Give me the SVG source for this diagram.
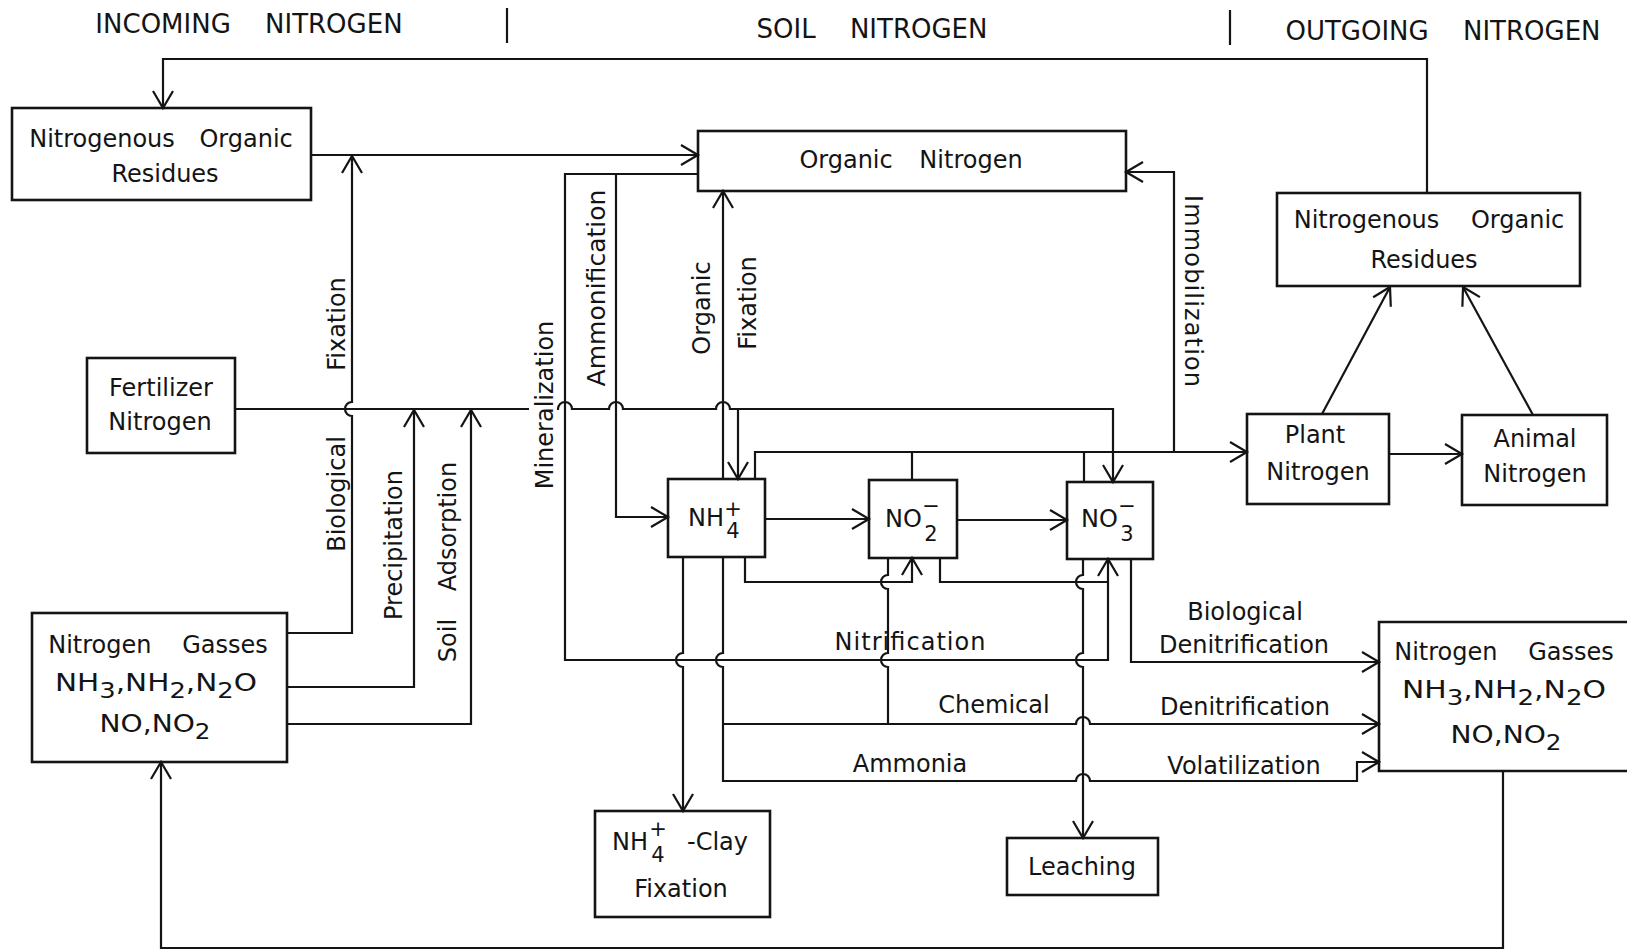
<svg xmlns="http://www.w3.org/2000/svg" width="1627" height="951" viewBox="0 0 1627 951">
<defs>
<style>
.t{font-family:"DejaVu Sans","Liberation Sans",sans-serif;font-size:24px;fill:#141414}
.hd{font-size:26px;word-spacing:26px}
.s{font-size:21px}
.m{text-anchor:middle}
.b{fill:none;stroke:#141414;stroke-width:2.6}
.c{fill:none;stroke:#141414;stroke-width:2.2}
.a{marker-end:url(#ah)}
</style>
<marker id="ah" markerUnits="userSpaceOnUse" orient="auto" markerWidth="26" markerHeight="26" viewBox="-22 -13 26 26" refX="0" refY="0" overflow="visible"><path d="M-17,-10 L0,0 L-17,10" fill="none" stroke="#141414" stroke-width="2.2"/></marker>
</defs>
<rect width="1627" height="951" fill="#fff"/>

<g id="headers">
<text class="t hd m" x="249" y="33">INCOMING NITROGEN</text>
<text class="t hd m" x="872" y="38">SOIL NITROGEN</text>
<text class="t hd m" x="1443" y="40">OUTGOING NITROGEN</text>
<path class="c" d="M507,8 V43 M1230,10 V45"/>
</g>

<g id="n-lnor">
<rect class="b" x="12" y="108" width="299" height="92"/>
<text class="t m" x="161" y="147" style="word-spacing:17px">Nitrogenous Organic</text>
<text class="t m" x="165" y="182">Residues</text>
</g>
<g id="n-orgn">
<rect class="b" x="698" y="131" width="428" height="60"/>
<text class="t m" x="911" y="168" style="word-spacing:19px">Organic Nitrogen</text>
</g>
<g id="n-rnor">
<rect class="b" x="1277" y="193" width="303" height="93"/>
<text class="t m" x="1429" y="228" style="word-spacing:24px">Nitrogenous Organic</text>
<text class="t m" x="1424" y="268">Residues</text>
</g>
<g id="n-fert">
<rect class="b" x="87" y="358" width="148" height="95"/>
<text class="t m" x="161" y="396">Fertilizer</text>
<text class="t m" x="160" y="430">Nitrogen</text>
</g>
<g id="n-nh4">
<rect class="b" x="668" y="479" width="97" height="78"/>
<text class="t" x="688" y="526">NH</text>
<text class="t s m" x="733" y="516">+</text>
<text class="t s m" x="733" y="538">4</text>
</g>
<g id="n-no2">
<rect class="b" x="869" y="480" width="88" height="78"/>
<text class="t" x="885" y="527">NO</text>
<text class="t s m" x="931" y="513">−</text>
<text class="t s m" x="931" y="541">2</text>
</g>
<g id="n-no3">
<rect class="b" x="1067" y="482" width="86" height="77"/>
<text class="t" x="1081" y="527">NO</text>
<text class="t s m" x="1127" y="513">−</text>
<text class="t s m" x="1127" y="541">3</text>
</g>
<g id="n-plant">
<rect class="b" x="1247" y="414" width="142" height="90"/>
<text class="t m" x="1315" y="443">Plant</text>
<text class="t m" x="1318" y="480">Nitrogen</text>
</g>
<g id="n-animal">
<rect class="b" x="1462" y="415" width="145" height="90"/>
<text class="t m" x="1535" y="447">Animal</text>
<text class="t m" x="1535" y="482">Nitrogen</text>
</g>
<g id="n-lgas">
<rect class="b" x="32" y="613" width="255" height="149"/>
<text class="t m" x="158" y="653" style="word-spacing:23px">Nitrogen Gasses</text>
<text class="t m" x="156" y="691" textLength="202" lengthAdjust="spacingAndGlyphs">NH<tspan class="s" dy="7">3</tspan><tspan dy="-7">,NH</tspan><tspan class="s" dy="7">2</tspan><tspan dy="-7">,N</tspan><tspan class="s" dy="7">2</tspan><tspan dy="-7">O</tspan></text>
<text class="t m" x="155" y="732" textLength="111" lengthAdjust="spacingAndGlyphs">NO,NO<tspan class="s" dy="7">2</tspan></text>
</g>
<g id="n-rgas">
<path class="b" d="M1627,622 H1379 V771 H1627"/>
<text class="t m" x="1504" y="660" style="word-spacing:23px">Nitrogen Gasses</text>
<text class="t m" x="1504" y="698" textLength="204" lengthAdjust="spacingAndGlyphs">NH<tspan class="s" dy="7">3</tspan><tspan dy="-7">,NH</tspan><tspan class="s" dy="7">2</tspan><tspan dy="-7">,N</tspan><tspan class="s" dy="7">2</tspan><tspan dy="-7">O</tspan></text>
<text class="t m" x="1506" y="743" textLength="111" lengthAdjust="spacingAndGlyphs">NO,NO<tspan class="s" dy="7">2</tspan></text>
</g>
<g id="n-clay">
<rect class="b" x="595" y="811" width="175" height="106"/>
<text class="t" x="612" y="850">NH</text>
<text class="t s m" x="658" y="836">+</text>
<text class="t s m" x="658" y="862">4</text>
<text class="t" x="687" y="850">-Clay</text>
<text class="t m" x="681" y="897">Fixation</text>
</g>
<g id="n-leach">
<rect class="b" x="1007" y="838" width="151" height="57"/>
<text class="t m" x="1082" y="875">Leaching</text>
</g>

<g id="connectors">
<path class="c a" d="M1427,193 V59 H163 V108"/>
<path class="c a" d="M311,155 H698"/>
<path class="c a" d="M287,633 H352 V416 A7,7 0 0 1 352,402 V156"/>
<path class="c a" d="M287,687 H414 V410"/>
<path class="c a" d="M287,724 H471 V410"/>
<path class="c a" d="M235,409 H529 M557,409 H558 A7,7 0 0 1 572,409 H609 A7,7 0 0 1 623,409 H716 A7,7 0 0 1 730,409 H1113 V482"/>
<path class="c a" d="M738,409 V479"/>
<path class="c a" d="M698,174 H565 V660 H1108 V559"/>
<path class="c a" d="M616,174 V517 H668"/>
<path class="c a" d="M723,479 V191"/>
<path class="c a" d="M755,479 V452 H1247"/>
<path class="c" d="M912,480 V452 M1084,482 V452"/>
<path class="c a" d="M1174,452 V172 H1126"/>
<path class="c a" d="M765,519 H869"/>
<path class="c a" d="M957,520 H1067"/>
<path class="c a" d="M745,557 V582 H912 V558"/>
<path class="c" d="M940,558 V582 H1108"/>
<path class="c" d="M888,558 V575 A7,7 0 0 0 888,589 V653 A7,7 0 0 0 888,667 V724"/>
<path class="c a" d="M1083,559 V575 A7,7 0 0 0 1083,589 V653 A7,7 0 0 0 1083,667 V838"/>
<path class="c a" d="M1131,559 V662 H1379"/>
<path class="c a" d="M723,557 V653 A7,7 0 0 0 723,667 V781 H1076 A7,7 0 0 1 1090,781 H1357 V762 H1379"/>
<path class="c a" d="M723,724 H1076 A7,7 0 0 1 1090,724 H1379"/>
<path class="c a" d="M683,557 V653 A7,7 0 0 0 683,667 V811"/>
<path class="c a" d="M1503,771 V948 H161 V762"/>
<path class="c a" d="M1389,454 H1462"/>
<path class="c a" d="M1322,414 L1390,287"/>
<path class="c a" d="M1533,415 L1463,287"/>
</g>

<g id="edge-labels">
<text class="t m" transform="translate(345,324) rotate(-90)">Fixation</text>
<text class="t m" transform="translate(345,494) rotate(-90)">Biological</text>
<text class="t m" transform="translate(402,545) rotate(-90)">Precipitation</text>
<text class="t m" transform="translate(456,562) rotate(-90)" style="word-spacing:20px">Soil Adsorption</text>
<text class="t m" transform="translate(553,405) rotate(-90)">Mineralization</text>
<text class="t m" transform="translate(605,288) rotate(-90)" textLength="197" lengthAdjust="spacingAndGlyphs">Ammonification</text>
<text class="t m" transform="translate(710,308) rotate(-90)">Organic</text>
<text class="t m" transform="translate(756,303) rotate(-90)">Fixation</text>
<text class="t m" transform="translate(1185,291) rotate(90)" textLength="192" lengthAdjust="spacing">Immobilization</text>
<text class="t m" x="910" y="650" textLength="151" lengthAdjust="spacing">Nitrification</text>
<text class="t m" x="994" y="713">Chemical</text>
<text class="t m" x="910" y="772">Ammonia</text>
<text class="t m" x="1245" y="620">Biological</text>
<text class="t m" x="1244" y="653">Denitrification</text>
<text class="t m" x="1245" y="715">Denitrification</text>
<text class="t m" x="1244" y="774">Volatilization</text>
</g>
</svg>
